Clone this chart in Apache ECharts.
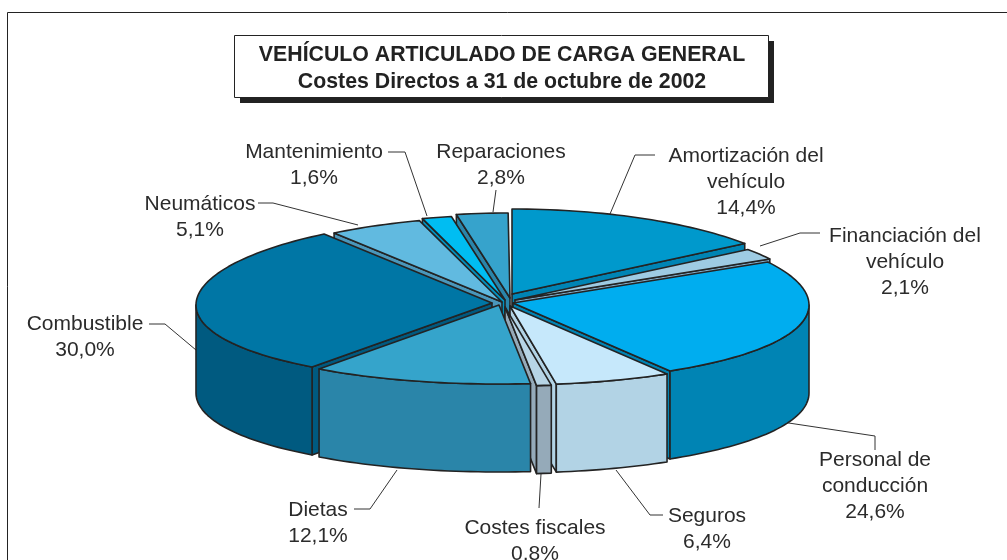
<!DOCTYPE html>
<html><head><meta charset="utf-8">
<style>html,body{margin:0;padding:0;background:#fff}#c{width:1007px;height:560px}</style>
<script src="https://cdn.jsdelivr.net/npm/echarts@6/dist/echarts.min.js"></script>
</head><body><div id="c"></div>
<script>
const categories = ['Amortización del vehículo','Financiación del vehículo','Personal de conducción','Seguros','Costes fiscales','Dietas','Combustible','Neumáticos','Mantenimiento','Reparaciones'];
const shares = [14.4,2.1,24.6,6.4,0.8,12.1,30.0,5.1,1.6,2.8];
const shareLabels = ['14,4%','2,1%','24,6%','6,4%','0,8%','12,1%','30,0%','5,1%','1,6%','2,8%'];

// presentation only
const topColors  = ['#0099CC','#9ECBE3','#00ADEF','#C6E8FB','#B7D5E6','#35A4CB','#0076A5','#61BAE0','#00BDF2','#36A3CC'];
const sideColors = ['#0084B4','#7FA9C6','#0084B4','#B2D3E5','#95AAB9','#2A85A9','#005A80','#4A97BB','#0090BE','#2A85AA'];
const explodedCentres = [[512,291],[515,297],[513,300],[510,303],[505,304],[499,302],[492,300],[502,299],[505,297],[510,295]];
const labelWraps = [['Amortización del','vehículo'],['Financiación del','vehículo'],['Personal de','conducción'],['Seguros'],['Costes fiscales'],['Dietas'],['Combustible'],['Neumáticos'],['Mantenimiento'],['Reparaciones']];
const RX=296, RY=82, DEPTH=88, WARP=5, APEX=3, INK='#232323', TXT='#2b2b2b';

const total = 100;
let acc = 0;
const rows = shares.map((v,i)=>{const s=acc/total*360; acc+=v; return {i, s, e:acc/total*360};});
rows[rows.length-1].e = Math.max(rows[rows.length-1].e, 359.6);
// painter's order: back slices first, the slice just left of the front-most point last
const frontKey = r=>Math.cos(((r.s+r.e)/2-190)*Math.PI/180);
const order = rows.slice().sort((a,b)=>frontKey(a)-frontKey(b));
const rad = d=>d*Math.PI/180;
function rim(c,t,dz){const r=rad(t),sn=Math.sin(r);return [c[0]+RX*sn,c[1]-RY*Math.cos(r)+WARP*sn*sn+dz];}
function arc(c,a,b,dz){const p=[];const n=Math.max(2,Math.ceil(Math.abs(b-a)/1.5));for(let k=0;k<=n;k++)p.push(rim(c,a+(b-a)*k/n,dz));return p;}

function renderItem(params, api){
  const row = order[api.value(0)];
  const c = explodedCentres[row.i];
  const apexTop=[c[0],c[1]+APEX], apexBot=[c[0],c[1]+APEX+DEPTH];
  const st={stroke:INK,lineWidth:1.6,lineJoin:'round'};
  const kids=[];
  const poly=(points,fill)=>kids.push({type:'polygon',shape:{points},style:Object.assign({fill},st)});
  const side=sideColors[row.i];
  if(Math.sin(rad(row.s))<-0.001) poly([apexTop,rim(c,row.s,0),rim(c,row.s,DEPTH),apexBot],side);
  if(Math.sin(rad(row.e))>0.001) poly([apexTop,rim(c,row.e,0),rim(c,row.e,DEPTH),apexBot],side);
  const a=Math.max(row.s,90), b=Math.min(row.e,270);
  if(b>a) poly(arc(c,a,b,0).concat(arc(c,b,a,DEPTH)),side);
  poly([apexTop].concat(arc(c,row.s,row.e,0)),topColors[row.i]);
  return {type:'group',children:kids};
}

const labelLayout = [
 {x:746,y:155,leader:[[610,214],[635,155],[655,155]]},
 {x:905,y:235,leader:[[760,246],[800,233],[820,233]]},
 {x:875,y:459,leader:[[782,422],[875,436],[875,450]]},
 {x:707,y:515,leader:[[616,470],[650,515],[663,515]]},
 {x:535,y:527,leader:[[541,474],[539,508]]},
 {x:318,y:509,leader:[[397,470],[370,509],[354,509]]},
 {x:85,y:323,leader:[[196,350],[165,324],[149,324]]},
 {x:200,y:203,leader:[[358,225],[273,203],[258,203]]},
 {x:314,y:151,leader:[[427,216],[405,152],[388,152]]},
 {x:501,y:151,leader:[[493,212],[496,190]]}
];
const graphics=[
 {type:'rect',shape:{x:7.5,y:12.5,width:1100,height:700},style:{fill:'#fff',stroke:INK,lineWidth:1},silent:true,z:0},
 {type:'rect',shape:{x:240,y:41,width:534,height:62},style:{fill:'#222'},z:1},
 {type:'rect',shape:{x:234.5,y:35.5,width:534,height:62},style:{fill:'#fff',stroke:INK,lineWidth:1},z:2}
];
labelLayout.forEach((l,i)=>{
 graphics.push({type:'polyline',shape:{points:l.leader},style:{stroke:'#333',lineWidth:1,fill:null},z:3});
 graphics.push({type:'text',x:l.x,y:l.y-12,z:4,style:{text:labelWraps[i].concat(shareLabels[i]).join('\n'),align:'center',verticalAlign:'top',
   font:'21px "Liberation Sans", Arial, sans-serif',lineHeight:26,fill:TXT}});
});

const chart=echarts.init(document.getElementById('c'),null,{renderer:'canvas'});
chart.setOption({
 animation:false,
 backgroundColor:'#fff',
 title:{text:'VEHÍCULO ARTICULADO DE CARGA GENERAL\nCostes Directos a 31 de octubre de 2002',left:497,top:37,textAlign:'center',
   textStyle:{fontFamily:'"Liberation Sans", Arial, sans-serif',fontWeight:'bold',fontSize:21.3,lineHeight:27,color:'#222'},z:10},
 graphic:graphics,
 series:[{type:'custom',coordinateSystem:'none',renderItem,z:3,silent:true,
   data:order.map((r,k)=>({value:[k,shares[r.i]],name:categories[r.i]}))}]
});
</script></body></html>
